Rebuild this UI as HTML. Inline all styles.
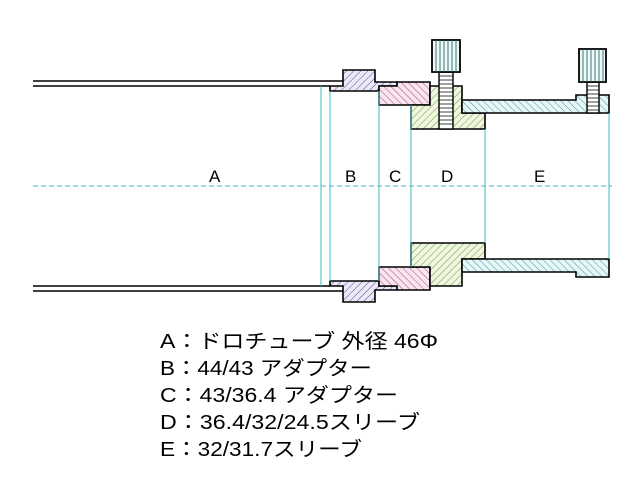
<!DOCTYPE html>
<html><head><meta charset="utf-8"><style>html,body{margin:0;padding:0;background:#fff;width:640px;height:480px;overflow:hidden}svg{display:block}</style></head><body>
<svg width="640" height="480" viewBox="0 0 640 480" xmlns="http://www.w3.org/2000/svg">
<defs>
<pattern id="hp" width="5" height="5" patternUnits="userSpaceOnUse" patternTransform="rotate(45)"><rect width="5" height="5" fill="#ece8f6"/><line x1="0" y1="0" x2="0" y2="5" stroke="#5a4a98" stroke-width="1"/></pattern>
<pattern id="hr" width="5" height="5" patternUnits="userSpaceOnUse" patternTransform="rotate(-45)"><rect width="5" height="5" fill="#f8e6ee"/><line x1="0" y1="0" x2="0" y2="5" stroke="#b04080" stroke-width="1"/></pattern>
<pattern id="hg" width="5" height="5" patternUnits="userSpaceOnUse" patternTransform="rotate(45)"><rect width="5" height="5" fill="#f0f6e0"/><line x1="0" y1="0" x2="0" y2="5" stroke="#6a9a40" stroke-width="1"/></pattern>
<pattern id="hc" width="5" height="5" patternUnits="userSpaceOnUse" patternTransform="rotate(-45)"><rect width="5" height="5" fill="#e8f6f6"/><line x1="0" y1="0" x2="0" y2="5" stroke="#409aa0" stroke-width="1"/></pattern>
</defs>
<rect x="0" y="0" width="640" height="480" fill="#fff"/>
<line x1="33" y1="81" x2="343" y2="81" stroke="#000" stroke-width="1.6"/>
<line x1="33" y1="86" x2="330" y2="86" stroke="#000" stroke-width="1.6"/>
<polygon points="330,86 343,86 343,70 375,70 375,82 397,82 397,86 379,86 379,91 330,91" fill="url(#hp)" stroke="#000" stroke-width="1.6"/>
<polygon points="379,86 397,86 397,82 430,82 430,105 379,105" fill="url(#hr)" stroke="#000" stroke-width="1.6"/>
<polygon points="411,105 430,105 430,86 462,86 462,113 485,113 485,129 411,129" fill="url(#hg)" stroke="#000" stroke-width="1.6"/>
<polygon points="462,100 576,100 576,95 609,95 609,113 462,113" fill="url(#hc)" stroke="#000" stroke-width="1.6"/>
<line x1="33" y1="291" x2="343" y2="291" stroke="#000" stroke-width="1.6"/>
<line x1="33" y1="286" x2="330" y2="286" stroke="#000" stroke-width="1.6"/>
<polygon points="330,286 343,286 343,302 375,302 375,290 397,290 397,286 379,286 379,281 330,281" fill="url(#hp)" stroke="#000" stroke-width="1.6"/>
<polygon points="379,286 397,286 397,290 430,290 430,267 379,267" fill="url(#hr)" stroke="#000" stroke-width="1.6"/>
<polygon points="411,267 430,267 430,286 462,286 462,259 485,259 485,243 411,243" fill="url(#hg)" stroke="#000" stroke-width="1.6"/>
<polygon points="462,272 576,272 576,277 609,277 609,259 462,259" fill="url(#hc)" stroke="#000" stroke-width="1.6"/>
<rect x="439" y="72" width="14" height="57" fill="#fff" stroke="#000" stroke-width="1.4"/>
<path d="M439 76H453M439 80H453M439 84H453M439 88H453M439 92H453M439 96H453M439 100H453M439 104H453M439 108H453M439 112H453M439 116H453M439 120H453M439 124H453" stroke="#000" stroke-width="0.8"/>
<rect x="432" y="40" width="28" height="32" fill="#eef8f8" stroke="#000" stroke-width="1.8"/>
<path d="M436 40V72M440 40V72M444 40V72M448 40V72M452 40V72M456 40V72" stroke="#2a6a6a" stroke-width="0.9"/>
<rect x="587" y="82" width="12" height="31" fill="#fff" stroke="#000" stroke-width="1.4"/>
<path d="M587 86H599M587 90H599M587 94H599M587 98H599M587 102H599M587 106H599M587 110H599" stroke="#000" stroke-width="0.8"/>
<rect x="579" y="49" width="27" height="33" fill="#eef8f8" stroke="#000" stroke-width="1.8"/>
<path d="M583 49V82M587 49V82M591 49V82M595 49V82M599 49V82M603 49V82" stroke="#2a6a6a" stroke-width="0.9"/>
<path d="M321 86V286M330 91V281M379 91V281M411 105V267M485 129V243M609 113V259" stroke="#40b8c0" stroke-width="1"/>
<line x1="33" y1="186" x2="612" y2="186" stroke="#40b8c0" stroke-width="1" stroke-dasharray="5,3"/>
<g font-family="Liberation Sans, sans-serif" font-size="17" fill="#000">
<text x="209" y="182">A</text><text x="345" y="182">B</text><text x="389" y="182">C</text><text x="441" y="182">D</text><text x="534" y="182">E</text>
</g>
<g font-family="Liberation Sans, Noto Sans CJK JP, sans-serif" font-size="20" fill="#000">
<text x="160" y="348" textLength="278" lengthAdjust="spacingAndGlyphs">A：ドロチューブ 外径 46Φ</text>
<text x="160" y="375" textLength="212" lengthAdjust="spacingAndGlyphs">B：44/43 アダプター</text>
<text x="160" y="402" textLength="238" lengthAdjust="spacingAndGlyphs">C：43/36.4 アダプター</text>
<text x="160" y="429" textLength="260" lengthAdjust="spacingAndGlyphs">D：36.4/32/24.5スリーブ</text>
<text x="160" y="456" textLength="202" lengthAdjust="spacingAndGlyphs">E：32/31.7スリーブ</text>
</g>
</svg>
</body></html>
